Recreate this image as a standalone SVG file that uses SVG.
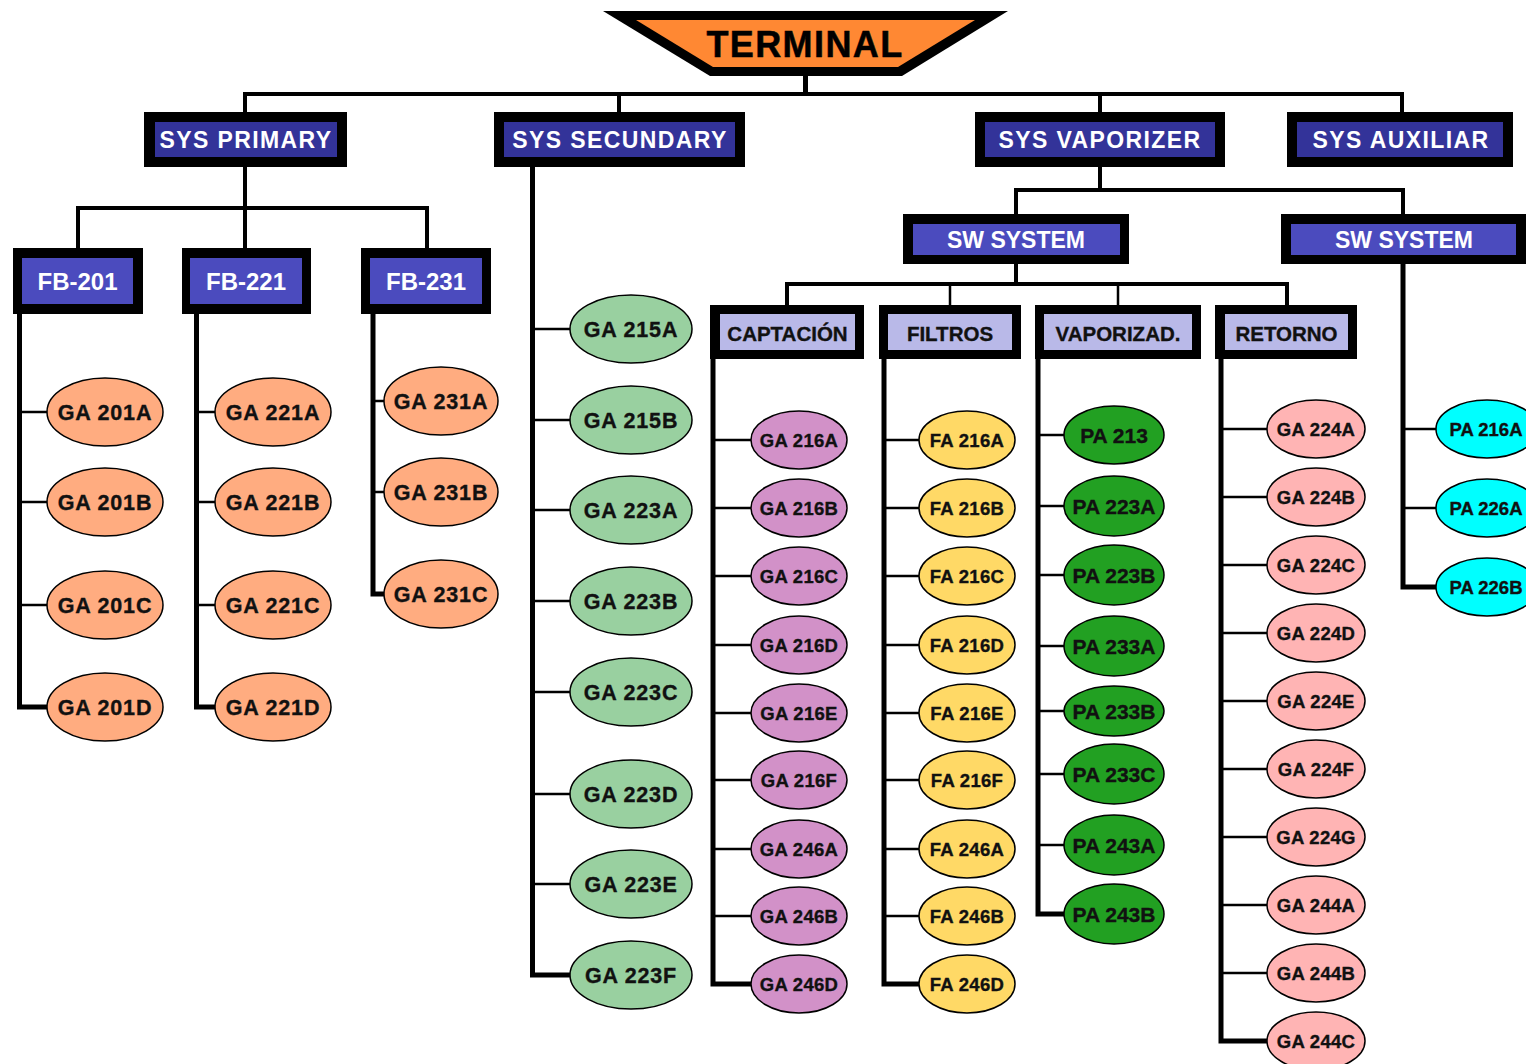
<svg xmlns="http://www.w3.org/2000/svg" width="1526" height="1064" viewBox="0 0 1526 1064">
<style>
.bk{fill:#000}
.sys{fill:#333399}
.fb{fill:#4B4BBE}
.lav{fill:#B9B9E8}
text{font-family:"Liberation Sans",Arial,Helvetica,sans-serif;font-weight:bold;text-anchor:middle}
.tw{fill:#fff}
.tk{fill:#111;stroke:#111;stroke-width:0.35px}
.tsys{font-size:23px;letter-spacing:1.4px}
.tfb{font-size:24px}
.tl3{font-size:20.5px}
.tbig{font-size:21.5px;letter-spacing:0.8px}
.tsm{font-size:18.5px;letter-spacing:0.3px}
.tgr{font-size:21px}
.tcy{font-size:18.5px}
.thick{stroke:#000;stroke-width:5;fill:none}
.med{stroke:#000;stroke-width:4;fill:none}
.thin{stroke:#000;stroke-width:2.5;fill:none}
ellipse{stroke:#000;stroke-width:1.5}
.eo{fill:#FFAC80}
.eg{fill:#99D0A0}
.ep{fill:#D291C8}
.ey{fill:#FFD966}
.ed{fill:#22A022}
.er{fill:#FFB4B4}
.ec{fill:#00FFFF}
</style>
<rect width="1526" height="1064" fill="#fff"/>
<g id="connectors">
<path class="thick" d="M805.5 76V94"/>
<path class="med" d="M245 112V94H1402V112M619 94V112M1100 94V112"/>
<path class="med" d="M245 167V208M78 248V208H427V248M245 208V248"/>
<path class="med" d="M1100 167V190M1016 214V190H1403V214"/>
<path class="med" d="M1016 264V284M787 305V284H1287V305"/>
<path class="thin" d="M950 284V305M1118 284V305"/>
<path class="thick" d="M19.5 314V707H47"/>
<path class="thin" d="M19.5 412H47M19.5 502H47M19.5 605H47"/>
<path class="thick" d="M196.5 314V707H215"/>
<path class="thin" d="M196.5 412H215M196.5 502H215M196.5 605H215"/>
<path class="thick" d="M373 314V594H384"/>
<path class="thin" d="M373 401H384M373 492H384"/>
<path class="thick" d="M532.5 167V975H570"/>
<path class="thin" d="M532.5 329H570M532.5 420H570M532.5 510H570M532.5 601H570M532.5 692H570M532.5 794H570M532.5 884H570"/>
<path class="thick" d="M713 359V984H751"/>
<path class="thin" d="M713 440H751M713 508H751M713 576H751M713 645H751M713 713H751M713 780H751M713 849H751M713 916H751"/>
<path class="thick" d="M884 359V984H919"/>
<path class="thin" d="M884 440H919M884 508H919M884 576H919M884 645H919M884 713H919M884 780H919M884 849H919M884 916H919"/>
<path class="thick" d="M1038 359V914H1064"/>
<path class="thin" d="M1038 435H1064M1038 506H1064M1038 575H1064M1038 646H1064M1038 711H1064M1038 774H1064M1038 845H1064"/>
<path class="thick" d="M1221 359V1041H1267"/>
<path class="thin" d="M1221 429H1267M1221 497H1267M1221 565H1267M1221 633H1267M1221 701H1267M1221 769H1267M1221 837H1267M1221 905H1267M1221 973H1267"/>
<path class="thick" d="M1403 264V587H1436"/>
<path class="thin" d="M1403 429H1436M1403 508H1436"/>
</g>
<g id="terminal">
<polygon class="bk" points="603,11 1008,11 902,76 710,76"/>
<polygon fill="#FF8833" points="636,20 975,20 898,67 713,67"/>
<text x="805" y="57" class="tk" style="font-size:36px;letter-spacing:1.4px;fill:#000;stroke:#000;stroke-width:0.5px">TERMINAL</text>
</g>
<g id="sys-primary"><rect class="bk" x="144" y="112" width="203" height="55"/><rect class="sys" x="155" y="122" width="182" height="35"/><text class="tw tsys" x="246" y="148">SYS PRIMARY</text></g>
<g id="sys-secundary"><rect class="bk" x="494" y="112" width="251" height="55"/><rect class="sys" x="504" y="122" width="231" height="35"/><text class="tw tsys" x="620" y="148">SYS SECUNDARY</text></g>
<g id="sys-vaporizer"><rect class="bk" x="975" y="112" width="250" height="55"/><rect class="sys" x="985" y="122" width="230" height="35"/><text class="tw tsys" x="1100" y="148">SYS VAPORIZER</text></g>
<g id="sys-auxiliar"><rect class="bk" x="1287" y="112" width="226" height="55"/><rect class="sys" x="1297" y="122" width="206" height="35"/><text class="tw tsys" x="1401" y="148">SYS AUXILIAR</text></g>
<g id="fb-201"><rect class="bk" x="13" y="248" width="130" height="66"/><rect class="fb" x="22" y="258" width="111" height="46"/><text class="tw tfb" x="77.5" y="290">FB-201</text></g>
<g id="fb-221"><rect class="bk" x="182" y="248" width="129" height="66"/><rect class="fb" x="190" y="258" width="112" height="46"/><text class="tw tfb" x="246" y="290">FB-221</text></g>
<g id="fb-231"><rect class="bk" x="361" y="248" width="130" height="66"/><rect class="fb" x="370" y="258" width="112" height="46"/><text class="tw tfb" x="426" y="290">FB-231</text></g>
<g id="sw-system-1"><rect class="bk" x="903" y="214" width="226" height="50"/><rect class="fb" x="913" y="224" width="207" height="31"/><text class="tw tfb" style="font-size:23px" x="1016" y="248">SW SYSTEM</text></g>
<g id="sw-system-2"><rect class="bk" x="1281" y="214" width="245" height="50"/><rect class="fb" x="1291" y="224" width="225" height="31"/><text class="tw tfb" style="font-size:23px" x="1404" y="248">SW SYSTEM</text></g>
<g id="captacion"><rect class="bk" x="710" y="305" width="154" height="54"/><rect class="lav" x="720" y="314" width="135" height="36"/><text class="tk tl3" x="787.5" y="341">CAPTACIÓN</text></g>
<g id="filtros"><rect class="bk" x="879" y="305" width="142" height="54"/><rect class="lav" x="888" y="314" width="124" height="36"/><text class="tk tl3" x="950" y="341">FILTROS</text></g>
<g id="vaporizad"><rect class="bk" x="1035" y="305" width="166" height="54"/><rect class="lav" x="1044" y="314" width="148" height="36"/><text class="tk tl3" x="1118" y="341">VAPORIZAD.</text></g>
<g id="retorno"><rect class="bk" x="1215" y="305" width="142" height="54"/><rect class="lav" x="1225" y="314" width="123" height="36"/><text class="tk tl3" x="1286.5" y="341">RETORNO</text></g>

<g id="ga201a"><ellipse class="eo" cx="105" cy="412" rx="58" ry="34"/><text class="tk tbig" x="105" y="420">GA 201A</text></g>
<g id="ga201b"><ellipse class="eo" cx="105" cy="502" rx="58" ry="34"/><text class="tk tbig" x="105" y="510">GA 201B</text></g>
<g id="ga201c"><ellipse class="eo" cx="105" cy="605" rx="58" ry="34"/><text class="tk tbig" x="105" y="613">GA 201C</text></g>
<g id="ga201d"><ellipse class="eo" cx="105" cy="707" rx="58" ry="34"/><text class="tk tbig" x="105" y="715">GA 201D</text></g>
<g id="ga221a"><ellipse class="eo" cx="273" cy="412" rx="58" ry="34"/><text class="tk tbig" x="273" y="420">GA 221A</text></g>
<g id="ga221b"><ellipse class="eo" cx="273" cy="502" rx="58" ry="34"/><text class="tk tbig" x="273" y="510">GA 221B</text></g>
<g id="ga221c"><ellipse class="eo" cx="273" cy="605" rx="58" ry="34"/><text class="tk tbig" x="273" y="613">GA 221C</text></g>
<g id="ga221d"><ellipse class="eo" cx="273" cy="707" rx="58" ry="34"/><text class="tk tbig" x="273" y="715">GA 221D</text></g>
<g id="ga231a"><ellipse class="eo" cx="441" cy="401" rx="57" ry="34"/><text class="tk tbig" x="441" y="409">GA 231A</text></g>
<g id="ga231b"><ellipse class="eo" cx="441" cy="492" rx="57" ry="34"/><text class="tk tbig" x="441" y="500">GA 231B</text></g>
<g id="ga231c"><ellipse class="eo" cx="441" cy="594" rx="57" ry="34"/><text class="tk tbig" x="441" y="602">GA 231C</text></g>

<g id="ga215a"><ellipse class="eg" cx="631" cy="329" rx="61" ry="34"/><text class="tk tbig" x="631" y="337">GA 215A</text></g>
<g id="ga215b"><ellipse class="eg" cx="631" cy="420" rx="61" ry="34"/><text class="tk tbig" x="631" y="428">GA 215B</text></g>
<g id="ga223a"><ellipse class="eg" cx="631" cy="510" rx="61" ry="34"/><text class="tk tbig" x="631" y="518">GA 223A</text></g>
<g id="ga223b"><ellipse class="eg" cx="631" cy="601" rx="61" ry="34"/><text class="tk tbig" x="631" y="609">GA 223B</text></g>
<g id="ga223c"><ellipse class="eg" cx="631" cy="692" rx="61" ry="34"/><text class="tk tbig" x="631" y="700">GA 223C</text></g>
<g id="ga223d"><ellipse class="eg" cx="631" cy="794" rx="61" ry="34"/><text class="tk tbig" x="631" y="802">GA 223D</text></g>
<g id="ga223e"><ellipse class="eg" cx="631" cy="884" rx="61" ry="34"/><text class="tk tbig" x="631" y="892">GA 223E</text></g>
<g id="ga223f"><ellipse class="eg" cx="631" cy="975" rx="61" ry="34"/><text class="tk tbig" x="631" y="983">GA 223F</text></g>

<g id="ga216a"><ellipse class="ep" cx="799" cy="440" rx="48" ry="29"/><text class="tk tsm" x="799" y="447">GA 216A</text></g>
<g id="ga216b"><ellipse class="ep" cx="799" cy="508" rx="48" ry="29"/><text class="tk tsm" x="799" y="515">GA 216B</text></g>
<g id="ga216c"><ellipse class="ep" cx="799" cy="576" rx="48" ry="29"/><text class="tk tsm" x="799" y="583">GA 216C</text></g>
<g id="ga216d"><ellipse class="ep" cx="799" cy="645" rx="48" ry="29"/><text class="tk tsm" x="799" y="652">GA 216D</text></g>
<g id="ga216e"><ellipse class="ep" cx="799" cy="713" rx="48" ry="29"/><text class="tk tsm" x="799" y="720">GA 216E</text></g>
<g id="ga216f"><ellipse class="ep" cx="799" cy="780" rx="48" ry="29"/><text class="tk tsm" x="799" y="787">GA 216F</text></g>
<g id="ga246a"><ellipse class="ep" cx="799" cy="849" rx="48" ry="29"/><text class="tk tsm" x="799" y="856">GA 246A</text></g>
<g id="ga246b"><ellipse class="ep" cx="799" cy="916" rx="48" ry="29"/><text class="tk tsm" x="799" y="923">GA 246B</text></g>
<g id="ga246d"><ellipse class="ep" cx="799" cy="984" rx="48" ry="29"/><text class="tk tsm" x="799" y="991">GA 246D</text></g>

<g id="fa216a"><ellipse class="ey" cx="967" cy="440" rx="48" ry="29"/><text class="tk tsm" x="967" y="447">FA 216A</text></g>
<g id="fa216b"><ellipse class="ey" cx="967" cy="508" rx="48" ry="29"/><text class="tk tsm" x="967" y="515">FA 216B</text></g>
<g id="fa216c"><ellipse class="ey" cx="967" cy="576" rx="48" ry="29"/><text class="tk tsm" x="967" y="583">FA 216C</text></g>
<g id="fa216d"><ellipse class="ey" cx="967" cy="645" rx="48" ry="29"/><text class="tk tsm" x="967" y="652">FA 216D</text></g>
<g id="fa216e"><ellipse class="ey" cx="967" cy="713" rx="48" ry="29"/><text class="tk tsm" x="967" y="720">FA 216E</text></g>
<g id="fa216f"><ellipse class="ey" cx="967" cy="780" rx="48" ry="29"/><text class="tk tsm" x="967" y="787">FA 216F</text></g>
<g id="fa246a"><ellipse class="ey" cx="967" cy="849" rx="48" ry="29"/><text class="tk tsm" x="967" y="856">FA 246A</text></g>
<g id="fa246b"><ellipse class="ey" cx="967" cy="916" rx="48" ry="29"/><text class="tk tsm" x="967" y="923">FA 246B</text></g>
<g id="fa246d"><ellipse class="ey" cx="967" cy="984" rx="48" ry="29"/><text class="tk tsm" x="967" y="991">FA 246D</text></g>

<g id="pa213"><ellipse class="ed" cx="1114" cy="435" rx="50" ry="29"/><text class="tk tgr" x="1114" y="443">PA 213</text></g>
<g id="pa223a"><ellipse class="ed" cx="1114" cy="506" rx="50" ry="30"/><text class="tk tgr" x="1114" y="514">PA 223A</text></g>
<g id="pa223b"><ellipse class="ed" cx="1114" cy="575" rx="50" ry="30"/><text class="tk tgr" x="1114" y="583">PA 223B</text></g>
<g id="pa233a"><ellipse class="ed" cx="1114" cy="646" rx="50" ry="30"/><text class="tk tgr" x="1114" y="654">PA 233A</text></g>
<g id="pa233b"><ellipse class="ed" cx="1114" cy="711" rx="50" ry="25"/><text class="tk tgr" x="1114" y="719">PA 233B</text></g>
<g id="pa233c"><ellipse class="ed" cx="1114" cy="774" rx="50" ry="30"/><text class="tk tgr" x="1114" y="782">PA 233C</text></g>
<g id="pa243a"><ellipse class="ed" cx="1114" cy="845" rx="50" ry="30"/><text class="tk tgr" x="1114" y="853">PA 243A</text></g>
<g id="pa243b"><ellipse class="ed" cx="1114" cy="914" rx="50" ry="30"/><text class="tk tgr" x="1114" y="922">PA 243B</text></g>

<g id="ga224a"><ellipse class="er" cx="1316" cy="429" rx="49" ry="29"/><text class="tk tsm" x="1316" y="436">GA 224A</text></g>
<g id="ga224b"><ellipse class="er" cx="1316" cy="497" rx="49" ry="29"/><text class="tk tsm" x="1316" y="504">GA 224B</text></g>
<g id="ga224c"><ellipse class="er" cx="1316" cy="565" rx="49" ry="29"/><text class="tk tsm" x="1316" y="572">GA 224C</text></g>
<g id="ga224d"><ellipse class="er" cx="1316" cy="633" rx="49" ry="29"/><text class="tk tsm" x="1316" y="640">GA 224D</text></g>
<g id="ga224e"><ellipse class="er" cx="1316" cy="701" rx="49" ry="29"/><text class="tk tsm" x="1316" y="708">GA 224E</text></g>
<g id="ga224f"><ellipse class="er" cx="1316" cy="769" rx="49" ry="29"/><text class="tk tsm" x="1316" y="776">GA 224F</text></g>
<g id="ga224g"><ellipse class="er" cx="1316" cy="837" rx="49" ry="29"/><text class="tk tsm" x="1316" y="844">GA 224G</text></g>
<g id="ga244a"><ellipse class="er" cx="1316" cy="905" rx="49" ry="29"/><text class="tk tsm" x="1316" y="912">GA 244A</text></g>
<g id="ga244b"><ellipse class="er" cx="1316" cy="973" rx="49" ry="29"/><text class="tk tsm" x="1316" y="980">GA 244B</text></g>
<g id="ga244c"><ellipse class="er" cx="1316" cy="1041" rx="49" ry="29"/><text class="tk tsm" x="1316" y="1048">GA 244C</text></g>

<g id="pa216a"><ellipse class="ec" cx="1487" cy="429" rx="51" ry="29"/><text class="tk tcy" x="1486" y="436">PA 216A</text></g>
<g id="pa226a"><ellipse class="ec" cx="1487" cy="508" rx="51" ry="29"/><text class="tk tcy" x="1486" y="515">PA 226A</text></g>
<g id="pa226b"><ellipse class="ec" cx="1487" cy="587" rx="51" ry="29"/><text class="tk tcy" x="1486" y="594">PA 226B</text></g>
</svg>
